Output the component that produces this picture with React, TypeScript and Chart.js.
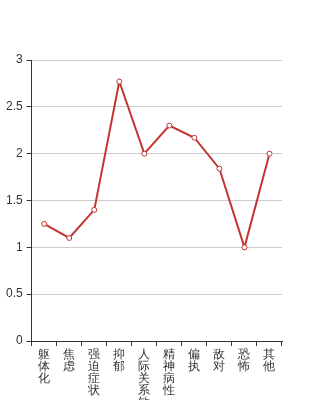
import React, { useEffect, useRef } from "react";
import { Chart, registerables } from "chart.js";

Chart.register(...registerables);

const categories = ["躯体化", "焦虑", "强迫症状", "抑郁", "人际关系敏感", "精神病性", "偏执", "敌对", "恐怖", "其他"];
const values = [1.25, 1.1, 1.4, 2.77, 2.0, 2.3, 2.17, 1.84, 1.0, 2.0];
const yTicks = [0, 0.5, 1, 1.5, 2, 2.5, 3];

export default function App() {
  const ref = useRef<HTMLCanvasElement | null>(null);
  useEffect(() => {
    document.body.style.margin = "0";
    document.body.style.overflow = "hidden";
    const ctx = ref.current!;
    const chart = new Chart(ctx, {
      type: "line",
      data: {
        labels: categories.map((c) => c.split("")),
        datasets: [
          {
            data: values,
            borderColor: "#c23531",
            borderWidth: 2,
            backgroundColor: "#ffffff",
            pointBackgroundColor: "#ffffff",
            pointBorderColor: "#c23531",
            pointBorderWidth: 1,
            pointRadius: 2.5,
            tension: 0,
          },
        ],
      },
      options: {
        animation: false,
        responsive: false,
        devicePixelRatio: 1,
        layout: { padding: { top: 60, left: 2, right: 31, bottom: 0 } },
        plugins: { legend: { display: false }, tooltip: { enabled: false } },
        scales: {
          x: {
            offset: true,
            grid: {
              offset: true,
              drawOnChartArea: false,
              drawTicks: true,
              tickLength: 5,
              tickColor: "#333",
            },
            border: { color: "#333", width: 1 },
            ticks: {
              autoSkip: false,
              maxRotation: 0,
              minRotation: 0,
              padding: 3,
              color: "#333",
              font: { family: "'Liberation Sans', Arial, sans-serif", size: 12, lineHeight: 1.0 },
            },
          },
          y: {
            min: 0,
            max: 3,
            afterBuildTicks: (axis: any) => {
              axis.ticks = yTicks.map((v) => ({ value: v }));
            },
            grid: {
              color: "#cccccc",
              drawTicks: true,
              tickLength: 5,
              tickColor: "#333",
            },
            border: { color: "#333", width: 1 },
            ticks: {
              padding: 4,
              color: "#333",
              callback: (v: any) => String(v),
              font: { family: "'Liberation Sans', Arial, sans-serif", size: 12 },
            },
          },
        },
      },
    });
    return () => chart.destroy();
  }, []);
  return (
    <div style={{ width: 313, height: 424 }}>
      <canvas ref={ref} width={313} height={424} style={{ display: "block" }} />
    </div>
  );
}
